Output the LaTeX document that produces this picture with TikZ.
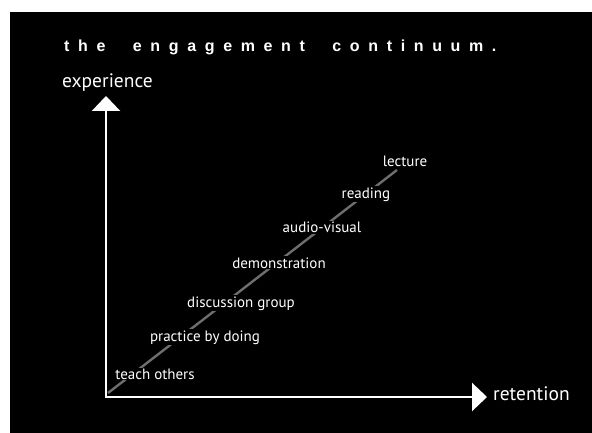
\documentclass[tikz,border=0pt]{standalone}
\usepackage{fontspec}
\setmainfont{PT Sans}
\newfontfamily\titlefont[LetterSpace=54,WordSpace=2.1]{Liberation Sans}
\usetikzlibrary{arrows.meta}

\definecolor{linegray}{RGB}{110,110,110}

\tikzset{
  axis/.style={white, line width=2.6pt, line cap=rect, -{Triangle[length=15pt,width=28pt]}},
  diagline/.style={linegray, line width=2.4pt},
  item/.style={fill=black, text=white, inner sep=1pt, anchor=base, font=\fontsize{15}{17}\selectfont},
  axislabel/.style={text=white, inner sep=0pt, font=\fontsize{19.5}{21}\selectfont},
  titletext/.style={text=white, inner sep=0pt, anchor=base west, font=\titlefont\bfseries\fontsize{16}{18}\selectfont}
}

\begin{document}
\begin{tikzpicture}[x=1pt,y=-1pt]
\useasboundingbox (0,0) rectangle (592,433);
\fill[black] (10,12) rectangle (592,433);

\node[titletext] (title) at (64,52) {the engagement continuum.};

\coordinate (origin) at (106,397);
\coordinate (ytop) at (106,96);
\coordinate (xend) at (487,397);
\coordinate (diagstart) at (108,393);
\coordinate (diagend) at (397,170);

% the continuum runs behind the labels
\draw[diagline] (diagstart) -- (diagend);

\draw[axis] (origin) -- (ytop);
\draw[axis] (origin) -- (xend);

\foreach \x/\y/\txt [count=\i] in {155/379/teach others, 205/341/practice by doing,
  241/307/discussion group, 279/268/demonstration, 322/233/audio-visual,
  366/198/reading, 405/167/lecture}
  \node[item] (item\i) at (\x,\y) {\txt};

\node[axislabel, anchor=base] (ylabel) at (107.5,88) {experience};
\node[axislabel, anchor=base west] (xlabel) at (493,400) {retention};
\end{tikzpicture}
\end{document}
